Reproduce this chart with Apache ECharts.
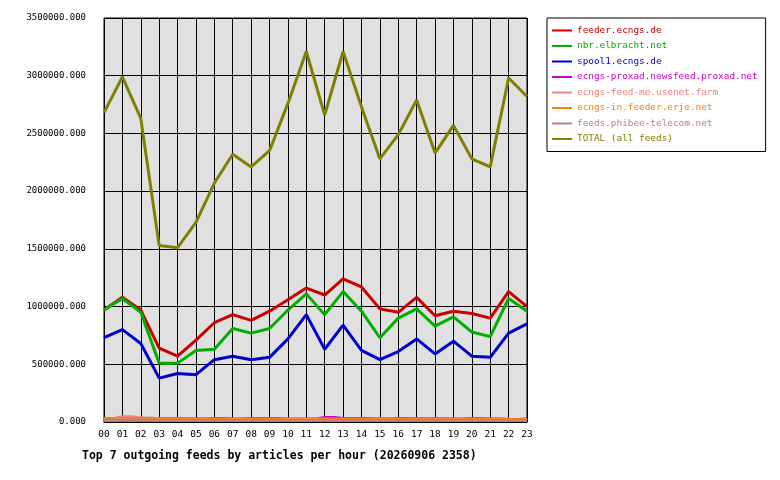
<!DOCTYPE html><html><head><meta charset="utf-8">
<script src="https://cdn.jsdelivr.net/npm/echarts@6/dist/echarts.min.js"></script>
<style>html,body{margin:0;background:#fff}#c{width:780px;height:480px}</style></head><body><div id="c"></div>
<script>
const hours=['00','01','02','03','04','05','06','07','08','09','10','11','12','13','14','15','16','17','18','19','20','21','22','23'];
const feeder=[970000,1080000,970000,640000,570000,710000,860000,930000,880000,960000,1060000,1160000,1100000,1240000,1170000,980000,950000,1080000,920000,960000,940000,900000,1130000,1000000];
const nbr=[970000,1070000,950000,510000,510000,620000,630000,810000,770000,810000,970000,1110000,930000,1130000,960000,730000,900000,980000,830000,910000,780000,740000,1070000,960000];
const spool1=[730000,800000,680000,380000,420000,410000,540000,570000,540000,560000,720000,930000,630000,840000,620000,540000,610000,720000,590000,700000,570000,560000,770000,850000];
const proxad=[30000,30000,30000,30000,30000,25000,30000,25000,30000,30000,25000,25000,40000,30000,30000,25000,30000,28000,28000,25000,30000,25000,22000,25000];
const usenetFarm=[28000,45000,35000,28000,28000,25000,25000,25000,25000,25000,25000,25000,25000,25000,25000,28000,25000,25000,25000,25000,25000,25000,22000,22000];
const erje=[22000,25000,25000,22000,22000,20000,22000,20000,22000,22000,20000,20000,22000,22000,22000,25000,22000,20000,20000,20000,22000,20000,22000,20000];
const phibee=[15000,18000,18000,15000,15000,15000,15000,15000,15000,15000,15000,15000,15000,15000,15000,15000,15000,15000,15000,15000,15000,15000,15000,15000];
const total=[2680000,2990000,2630000,1530000,1510000,1730000,2070000,2320000,2210000,2350000,2760000,3210000,2660000,3210000,2730000,2280000,2490000,2790000,2330000,2570000,2280000,2210000,2980000,2820000];
const names=['feeder.ecngs.de','nbr.elbracht.net','spool1.ecngs.de','ecngs-proxad.newsfeed.proxad.net','ecngs-feed-me.usenet.farm','ecngs-in.feeder.erje.net','feeds.phibee-telecom.net','TOTAL (all feeds)'];
const colors=['#cc0000','#00b000','#0000cc','#cc00cc','#f08080','#ff8000','#c08080','#808000'];
const datas=[feeder,nbr,spool1,proxad,usenetFarm,erje,phibee,total];
const F='DejaVu Sans Mono';
const ch=echarts.init(document.getElementById('c'));
ch.setOption({
 animation:false,
 color:colors,
 grid:{left:104,right:253,top:18,bottom:58,show:true,backgroundColor:'#e0e0e0',borderColor:'#000',borderWidth:1},
 title:{text:'Top 7 outgoing feeds by articles per hour (20260906 2358)',left:77,top:445,textStyle:{fontFamily:F,fontSize:11.5,fontWeight:'bold',color:'#000'}},
 legend:{orient:'vertical',left:547,top:18,padding:[8,8,8,5],itemGap:6.5,itemWidth:20,itemHeight:2,icon:'rect',
   borderColor:'#000',borderWidth:1,
   data:names.map((n,i)=>({name:n,textStyle:{color:colors[i]}})),
   textStyle:{fontFamily:F,fontSize:9.4}},
 xAxis:{type:'category',data:hours,boundaryGap:false,
   axisLine:{lineStyle:{color:'#000'}},axisTick:{show:false},
   axisLabel:{fontFamily:F,fontSize:9.5,color:'#000',margin:8},
   splitLine:{show:true,lineStyle:{color:'#000',width:1}}},
 yAxis:{type:'value',min:0,max:3500000,interval:500000,
   axisLine:{show:true,lineStyle:{color:'#000'}},axisTick:{show:false},
   axisLabel:{fontFamily:F,fontSize:9,color:'#000',margin:18,formatter:v=>v.toFixed(3)},
   splitLine:{lineStyle:{color:'#000',width:1}}},
 series:names.map((n,i)=>({name:n,type:'line',data:datas[i],symbol:'none',
   step:i>=3&&i<7?'middle':false,
   lineStyle:{width:3,color:colors[i]},z:i==7?1:2}))
});
</script></body></html>
